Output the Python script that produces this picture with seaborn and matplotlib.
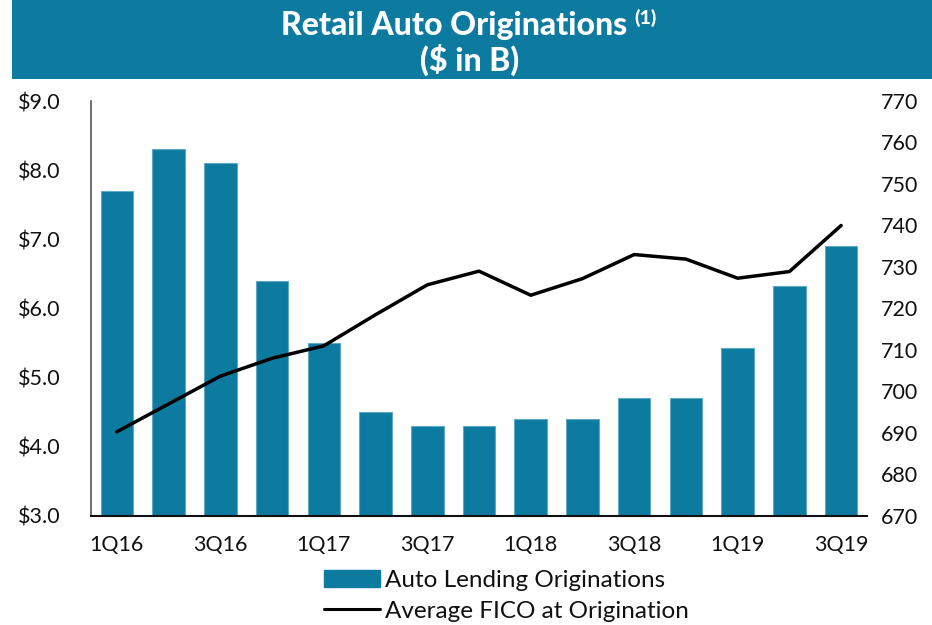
import matplotlib
matplotlib.use("Agg")
import matplotlib.pyplot as plt
import seaborn as sns
import pandas as pd
from matplotlib.patches import Patch, Rectangle
from matplotlib.lines import Line2D

quarters = ["1Q16", "2Q16", "3Q16", "4Q16", "1Q17", "2Q17", "3Q17", "4Q17",
            "1Q18", "2Q18", "3Q18", "4Q18", "1Q19", "2Q19", "3Q19"]
originations = [7.7, 8.3, 8.1, 6.4, 5.5, 4.5, 4.3, 4.3,
                4.4, 4.4, 4.7, 4.71, 5.43, 6.33, 6.9]
fico = [690.3, 697, 703.7, 708, 711, 718.5, 725.7, 729,
        723.2, 727.2, 733, 731.9, 727.3, 728.9, 740]
left_ticks = [3.0, 4.0, 5.0, 6.0, 7.0, 8.0, 9.0]
right_ticks = [670, 680, 690, 700, 710, 720, 730, 740, 750, 760, 770]
shown_labels = ["1Q16", "3Q16", "1Q17", "3Q17", "1Q18", "3Q18", "1Q19", "3Q19"]

title_line1 = "Retail Auto Originations"
title_sup = "(1)"
title_line2 = "($ in B)"
bar_label = "Auto Lending Originations"
line_label = "Average FICO at Origination"

TEAL = "#0D7A9F"
sns.set_theme(style="white")
plt.rcParams["font.family"] = ["Lato", "DejaVu Sans"]

df = pd.DataFrame({"quarter": quarters, "orig": originations, "fico": fico})

fig = plt.figure(figsize=(9.32, 6.25), dpi=100)

# title banner (behind everything)
fig.patches.append(Rectangle((12/932, 1-79/625), (932-12)/932, 79/625,
                             transform=fig.transFigure, facecolor=TEAL,
                             edgecolor="none", zorder=-5))

ax = fig.add_axes([91/932, 1-516/625, (867-91)/932, (516-101)/625])

sns.barplot(data=df, x="quarter", y="orig", ax=ax, color=TEAL, width=0.63,
            edgecolor="#5FA9C4", linewidth=0.8, saturation=1)
ax.set_ylim(3.0, 9.0)
ax.set_xlim(-0.5, len(quarters) - 0.5)
ax.set_yticks(left_ticks)
ax.set_yticklabels([f"${v:.1f}" for v in left_ticks], fontsize=15.5, color="#111111")
ax.set_xticks(range(len(quarters)))
ax.set_xticklabels([q if q in shown_labels else "" for q in quarters], fontsize=15.5, color="#111111")
ax.tick_params(axis="y", length=0, pad=22)
ax.tick_params(axis="x", length=0, pad=14)
ax.set_xlabel("")
ax.set_ylabel("")
for s in ["top", "right"]:
    ax.spines[s].set_visible(False)
ax.spines["left"].set_color("#555555")
ax.spines["left"].set_linewidth(1.2)
ax.spines["bottom"].set_color("#111111")
ax.spines["bottom"].set_linewidth(1.5)

ax2 = ax.twinx()
sns.lineplot(x=list(range(len(quarters))), y=fico, ax=ax2, color="black", linewidth=2.5)
ax2.set_ylim(670, 770)
ax2.set_yticks(right_ticks)
ax2.set_yticklabels([str(v) for v in right_ticks], fontsize=15.5, color="#111111")
ax2.tick_params(axis="y", length=0, pad=10)
ax2.set_ylabel("")
for s in ["top", "right", "left", "bottom"]:
    ax2.spines[s].set_visible(False)
ax2.set_xlim(-0.5, len(quarters) - 0.5)

t1 = fig.text(454/932, 1-25/625, title_line1, ha="center", va="center",
              fontsize=23, fontweight="black", color="white")
fig.text(470/932, 1-60/625, title_line2, ha="center", va="center",
         fontsize=23, fontweight="black", color="white")
fig.canvas.draw()
bb = t1.get_window_extent(renderer=fig.canvas.get_renderer())
fig.text((bb.x1 + 7) / fig.bbox.width, (bb.y1 + 2) / fig.bbox.height, title_sup,
         ha="left", va="top", fontsize=14, fontweight="black", color="white")

handles = [Patch(facecolor=TEAL, edgecolor=TEAL),
           Line2D([0], [0], color="black", linewidth=2.2)]
fig.legend(handles, [bar_label, line_label], loc="upper left",
           bbox_to_anchor=(324/932, 1-570/625), frameon=False, fontsize=17.5,
           handlelength=2.3, handletextpad=0.2, labelspacing=0.4,
           borderpad=0, borderaxespad=0, labelcolor="#111111")

fig.savefig("out.png", dpi=100)
